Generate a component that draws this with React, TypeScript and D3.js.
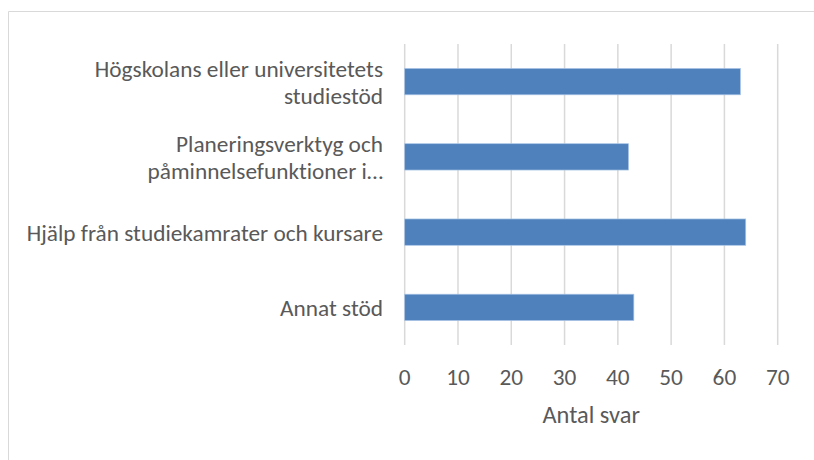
import React from "react";
import * as d3 from "d3";

const categories: string[][] = [
  ["Högskolans eller universitetets", "studiestöd"],
  ["Planeringsverktyg och", "påminnelsefunktioner i…"],
  ["Hjälp från studiekamrater och kursare"],
  ["Annat stöd"],
];
const values: number[] = [63, 42, 64, 43];
const ticks: number[] = [0, 10, 20, 30, 40, 50, 60, 70];
const axisTitle = "Antal svar";

const W = 814;
const H = 460;
const plot = { left: 404.7, right: 777.7, top: 44, bottom: 345 };
const font = "Carlito, Calibri, 'Open Sans', sans-serif";

export default function App() {
  const x = d3.scaleLinear().domain([0, 70]).range([plot.left, plot.right]);
  const y = d3
    .scaleBand<number>()
    .domain(categories.map((_, i) => i))
    .range([plot.top, plot.bottom])
    .paddingInner(0.65)
    .paddingOuter(0.325);
  const lineH = 27;
  const fs = 23.3;
  return (
    <svg
      width={W}
      height={H}
      style={{
        position: "absolute",
        left: 0,
        top: 0,
        background: "#fff",
        display: "block",
        fontVariantLigatures: "none",
      }}
      fontFamily={font}
    >
      <path d={`M8.5,${H}V11.5H${W}`} fill="none" stroke="#d9d9d9" strokeWidth={1} />
      {ticks.map((t) => (
        <line key={t} x1={x(t)} x2={x(t)} y1={plot.top} y2={plot.bottom} stroke="#d9d9d9" strokeWidth={1.5} />
      ))}
      {values.map((v, i) => (
        <rect
          key={i}
          x={x(0)}
          y={y(i)!}
          width={x(v) - x(0)}
          height={y.bandwidth()}
          fill="#4f81bd"
          stroke="#a9c4e6"
          strokeWidth={0.7}
        />
      ))}
      {ticks.map((t) => (
        <text key={t} x={x(t)} y={385} textAnchor="middle" fontSize={fs} fill="#595959">
          {t}
        </text>
      ))}
      {categories.map((lines, i) => {
        const cy = y(i)! + y.bandwidth() / 2;
        const n = lines.length;
        return (
          <text key={i} textAnchor="end" fontSize={fs} fill="#595959">
            {lines.map((l, j) => (
              <tspan key={j} x={383} y={cy + (j - (n - 1) / 2) * lineH + 8.5}>
                {l}
              </tspan>
            ))}
          </text>
        );
      })}
      <text x={(plot.left + plot.right) / 2} y={423} textAnchor="middle" fontSize={24.4} fill="#595959">
        {axisTitle}
      </text>
    </svg>
  );
}
